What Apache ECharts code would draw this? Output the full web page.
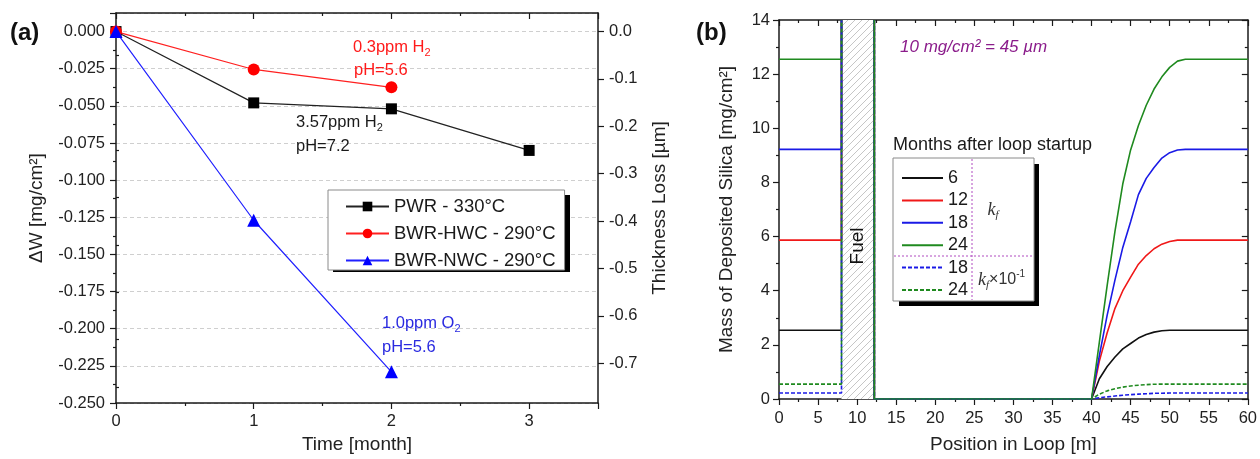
<!DOCTYPE html>
<html><head><meta charset="utf-8">
<script src="https://cdn.jsdelivr.net/npm/echarts@6/dist/echarts.min.js"></script>
<style>html,body{margin:0;padding:0;background:#fff}#c{width:1260px;height:459px}</style>
</head><body><div id="c"></div><script>
// ---------- data: panel (a) ----------
const timeMonths = [0, 1, 2, 3];
const pwrDeltaW = [0, -0.048, -0.052, -0.080];
const hwcDeltaW = [0, -0.0255, -0.0375];
const nwcDeltaW = [0, -0.127, -0.229];
const thicknessTicks = [0, -0.1, -0.2, -0.3, -0.4, -0.5, -0.6, -0.7];
const thicknessMinorTicks = [-0.05, -0.15, -0.25, -0.35, -0.45, -0.55, -0.65, -0.75];
const umPerMgCm2 = 3.136; // thickness loss (µm) per mg/cm2

// ---------- data: panel (b) ----------
const loopPosition = [40, 41, 42, 43, 44, 45, 46, 47, 48, 49, 50, 51, 52, 60];
const silica6  = [0, 0.75, 1.2, 1.55, 1.85, 2.05, 2.25, 2.38, 2.47, 2.52, 2.54, 2.54, 2.54, 2.54];
const silica12 = [0, 1.4, 2.45, 3.35, 4.0, 4.5, 4.98, 5.3, 5.55, 5.72, 5.82, 5.87, 5.87, 5.87];
const silica18 = [0, 1.6, 3.1, 4.4, 5.6, 6.55, 7.55, 8.15, 8.55, 8.9, 9.1, 9.2, 9.22, 9.22];
const silica24 = [0, 2.1, 4.2, 6.2, 7.95, 9.2, 10.1, 10.85, 11.45, 11.9, 12.25, 12.48, 12.55, 12.55];
const silica18low = [0, 0.05, 0.08, 0.11, 0.14, 0.16, 0.18, 0.195, 0.21, 0.215, 0.22, 0.22, 0.22, 0.22];
const silica24low = [0, 0.18, 0.3, 0.38, 0.44, 0.48, 0.51, 0.53, 0.545, 0.55, 0.55, 0.55, 0.55, 0.55];
const fuelStart = 8, fuelEnd = 12.2;
const massMax = 14;

// ---------- helpers ----------
const F = 'Liberation Sans, Arial, sans-serif';
const INK = '#1a1a1a';
const axLine = {show: true, onZero: false, lineStyle: {color: INK, width: 1.5}};
const tickSty = {color: INK, width: 1.2};
const lbl = (extra) => Object.assign({color: '#222', fontSize: 16.5, fontFamily: F}, extra);
const nameSty = {color: '#222', fontSize: 19, fontFamily: F};

function xy(xs, ys) { return ys.map((v, i) => [xs[i], v]); }
function loopData(vals) {
  const level = vals[vals.length - 1];
  return [[0, level], [fuelStart, level], [fuelStart, massMax], ['-', '-'],
          [fuelEnd, massMax], [fuelEnd, 0]].concat(xy(loopPosition, vals));
}

const T = 7;
const hatch = document.createElement('canvas');
hatch.width = T; hatch.height = T;
const hc = hatch.getContext('2d');
hc.fillStyle = '#fff'; hc.fillRect(0, 0, T, T);
hc.strokeStyle = '#c6c6c6'; hc.lineWidth = 1;
hc.beginPath();
hc.moveTo(0, T); hc.lineTo(T, 0);
hc.moveTo(-T / 2, T / 2); hc.lineTo(T / 2, -T / 2);
hc.moveTo(T / 2, T * 1.5); hc.lineTo(T * 1.5, T / 2);
hc.stroke();

const chart = echarts.init(document.getElementById('c'), null, {renderer: 'canvas', width: 1260, height: 459});

const option = {
  animation: false,
  backgroundColor: '#fff',
  textStyle: {fontFamily: F},
  grid: [
    {left: 116, top: 13, width: 482, height: 390},
    {left: 779, top: 20, width: 471, height: 380}
  ],
  xAxis: [
    {gridIndex: 0, type: 'value', min: 0, max: 3.5, interval: 1, position: 'bottom',
     axisLine: axLine, axisTick: {show: true, length: 6, lineStyle: tickSty},
     minorTick: {show: true, splitNumber: 2, length: 3, lineStyle: tickSty},
     axisLabel: lbl({margin: 10, showMaxLabel: false}), splitLine: {show: false},
     name: 'Time [month]', nameLocation: 'middle', nameGap: 32, nameTextStyle: nameSty},
    {gridIndex: 0, type: 'value', min: 0, max: 3.5, interval: 1, position: 'top',
     axisLine: axLine, axisTick: {show: true, inside: true, length: 6, lineStyle: tickSty},
     minorTick: {show: true, splitNumber: 2, length: 3, lineStyle: tickSty},
     axisLabel: {show: false}, splitLine: {show: false}},
    {gridIndex: 1, type: 'value', min: 0, max: 60, interval: 5, position: 'bottom',
     axisLine: axLine, axisTick: {show: true, length: 6, lineStyle: tickSty},
     minorTick: {show: true, splitNumber: 2, length: 3, lineStyle: tickSty},
     axisLabel: lbl({margin: 11}), splitLine: {show: false},
     name: 'Position in Loop [m]', nameLocation: 'middle', nameGap: 36, nameTextStyle: nameSty},
    {gridIndex: 1, type: 'value', min: 0, max: 60, interval: 5, position: 'top',
     axisLine: axLine, axisTick: {show: true, inside: true, length: 6, lineStyle: tickSty},
     minorTick: {show: true, splitNumber: 2, length: 3, lineStyle: tickSty},
     axisLabel: {show: false}, splitLine: {show: false}}
  ],
  yAxis: [
    {gridIndex: 0, type: 'value', min: -0.25, max: 0.0125, interval: 0.025, position: 'left',
     axisLine: axLine, axisTick: {show: true, length: 6, lineStyle: tickSty},
     minorTick: {show: true, splitNumber: 2, length: 3, lineStyle: tickSty},
     axisLabel: lbl({margin: 11, showMaxLabel: false, formatter: v => v.toFixed(3)}),
     splitLine: {show: true, lineStyle: {color: '#cfcfcf', type: [4, 3], width: 1}},
     name: 'ΔW [mg/cm²]', nameLocation: 'middle', nameGap: 70, nameRotate: 90, nameTextStyle: nameSty},
    {gridIndex: 0, type: 'value', min: -0.25 * umPerMgCm2, max: 0.0125 * umPerMgCm2, position: 'right',
     axisLine: axLine, axisTick: {show: true, length: 6, lineStyle: tickSty, customValues: thicknessTicks},
     axisLabel: lbl({margin: 11, customValues: thicknessTicks, formatter: v => v.toFixed(1)}),
     splitLine: {show: false},
     name: 'Thickness Loss [µm]', nameLocation: 'middle', nameGap: 52, nameRotate: 90, nameTextStyle: nameSty},
    {gridIndex: 0, type: 'value', min: -0.25 * umPerMgCm2, max: 0.0125 * umPerMgCm2, position: 'right',
     axisLine: {show: false}, axisTick: {show: true, length: 3, lineStyle: tickSty, customValues: thicknessMinorTicks},
     axisLabel: {show: false}, splitLine: {show: false}},
    {gridIndex: 1, type: 'value', min: 0, max: massMax, interval: 2, position: 'left',
     axisLine: axLine, axisTick: {show: true, length: 6, lineStyle: tickSty},
     minorTick: {show: true, splitNumber: 2, length: 3, lineStyle: tickSty},
     axisLabel: lbl({margin: 9}), splitLine: {show: false},
     name: 'Mass of Deposited Silica [mg/cm²]', nameLocation: 'middle', nameGap: 43, nameRotate: 90, nameTextStyle: nameSty},
    {gridIndex: 1, type: 'value', min: 0, max: massMax, interval: 2, position: 'right',
     axisLine: axLine, axisTick: {show: true, inside: true, length: 6, lineStyle: tickSty},
     minorTick: {show: true, splitNumber: 2, length: 3, lineStyle: tickSty},
     axisLabel: {show: false}, splitLine: {show: false}}
  ],
  legend: [
    {left: 328, top: 190, orient: 'vertical', itemWidth: 43, itemHeight: 12, itemGap: 8,
     padding: [7, 9, 0, 17], backgroundColor: '#fff', borderColor: '#8a8a8a', borderWidth: 1,
     textStyle: {fontSize: 18.5, fontFamily: F, color: '#1a1a1a'},
     data: ['PWR - 330°C', 'BWR-HWC - 290°C', 'BWR-NWC - 290°C']},
    {left: 893, top: 158, orient: 'vertical', itemWidth: 41, itemHeight: 10, itemGap: 4.4,
     padding: [11, 66, 2, 8], backgroundColor: '#fff', borderColor: '#8a8a8a', borderWidth: 1,
     itemStyle: {opacity: 0},
     textStyle: {fontSize: 18, fontFamily: F, color: '#1a1a1a'},
     formatter: n => n.split(' ')[0],
     data: ['6', '12', '18', '24', '18 (kf×0.1)', '24 (kf×0.1)']}
  ],
  series: [
    {type: 'line', name: 'PWR - 330°C', xAxisIndex: 0, yAxisIndex: 0, data: xy(timeMonths, pwrDeltaW),
     symbol: 'rect', symbolSize: 11, lineStyle: {color: '#222', width: 1.2}, itemStyle: {color: '#000'}, z: 3},
    {type: 'line', name: 'BWR-HWC - 290°C', xAxisIndex: 0, yAxisIndex: 0, data: xy(timeMonths, hwcDeltaW),
     symbol: 'circle', symbolSize: 12, lineStyle: {color: '#ff2020', width: 1.2}, itemStyle: {color: '#ff0000'}, z: 3},
    {type: 'line', name: 'BWR-NWC - 290°C', xAxisIndex: 0, yAxisIndex: 0, data: xy(timeMonths, nwcDeltaW),
     symbol: 'triangle', symbolSize: 13, lineStyle: {color: '#2020ff', width: 1.2}, itemStyle: {color: '#0000ff'}, z: 3},

    {type: 'line', name: '6', xAxisIndex: 2, yAxisIndex: 3, data: loopData(silica6), symbol: 'none',
     lineStyle: {color: '#111', width: 1.6}, itemStyle: {color: '#111'}, connectNulls: false,
     markArea: {silent: true, itemStyle: {color: {image: hatch, repeat: 'repeat'}},
       data: [[{xAxis: fuelStart, yAxis: 0}, {xAxis: fuelEnd, yAxis: massMax}]]}},
    {type: 'line', name: '12', xAxisIndex: 2, yAxisIndex: 3, data: loopData(silica12), symbol: 'none',
     lineStyle: {color: '#f01818', width: 1.6}, itemStyle: {color: '#f01818'}},
    {type: 'line', name: '18', xAxisIndex: 2, yAxisIndex: 3, data: loopData(silica18), symbol: 'none',
     lineStyle: {color: '#1a1ae6', width: 1.6}, itemStyle: {color: '#1a1ae6'}},
    {type: 'line', name: '24', xAxisIndex: 2, yAxisIndex: 3, data: loopData(silica24), symbol: 'none',
     lineStyle: {color: '#1f8a1f', width: 1.6}, itemStyle: {color: '#1f8a1f'}},
    {type: 'line', name: '18 (kf×0.1)', xAxisIndex: 2, yAxisIndex: 3, data: loopData(silica18low), symbol: 'none',
     lineStyle: {color: '#1a1ae6', width: 1.6, type: [4, 2]}, itemStyle: {color: '#1a1ae6'}},
    {type: 'line', name: '24 (kf×0.1)', xAxisIndex: 2, yAxisIndex: 3, data: loopData(silica24low), symbol: 'none',
     lineStyle: {color: '#1f8a1f', width: 1.6, type: [4, 2]}, itemStyle: {color: '#1f8a1f'}}
  ],
  graphic: [
    // legend drop shadows
    {type: 'rect', z: 3, shape: {x: 333, y: 195, width: 237, height: 77}, style: {fill: '#000'}},
    {type: 'rect', z: 3, shape: {x: 899, y: 164, width: 140, height: 142}, style: {fill: '#000'}},

    {type: 'text', x: 10, y: 33, z: 100, style: {text: '(a)', font: 'bold 24px ' + F, fill: '#111', verticalAlign: 'middle'}},
    {type: 'text', x: 696, y: 33, z: 100, style: {text: '(b)', font: 'bold 24px ' + F, fill: '#111', verticalAlign: 'middle'}},
    {type: 'text', x: 353, y: 47, z: 100, style: {text: '{n|0.3ppm H}{s|2}', verticalAlign: 'middle',
      rich: {n: {fontSize: 16.5, fontFamily: F, fill: '#ff1a1a', lineHeight: 22}, s: {fontSize: 11, fontFamily: F, fill: '#ff1a1a', lineHeight: 12, verticalAlign: 'bottom'}}}},
    {type: 'text', x: 354, y: 70, z: 100, style: {text: 'pH=5.6', font: '16.5px ' + F, fill: '#ff1a1a', verticalAlign: 'middle'}},
    {type: 'text', x: 296, y: 122, z: 100, style: {text: '{n|3.57ppm H}{s|2}', verticalAlign: 'middle',
      rich: {n: {fontSize: 16.5, fontFamily: F, fill: '#1a1a1a', lineHeight: 22}, s: {fontSize: 11, fontFamily: F, fill: '#1a1a1a', lineHeight: 12, verticalAlign: 'bottom'}}}},
    {type: 'text', x: 296, y: 146, z: 100, style: {text: 'pH=7.2', font: '16.5px ' + F, fill: '#1a1a1a', verticalAlign: 'middle'}},
    {type: 'text', x: 382, y: 323, z: 100, style: {text: '{n|1.0ppm O}{s|2}', verticalAlign: 'middle',
      rich: {n: {fontSize: 16.5, fontFamily: F, fill: '#2a2ae0', lineHeight: 22}, s: {fontSize: 11, fontFamily: F, fill: '#2a2ae0', lineHeight: 12, verticalAlign: 'bottom'}}}},
    {type: 'text', x: 382, y: 347, z: 100, style: {text: 'pH=5.6', font: '16.5px ' + F, fill: '#2a2ae0', verticalAlign: 'middle'}},

    {type: 'text', x: 858, y: 246, rotation: Math.PI / 2, z: 100, style: {text: 'Fuel', font: '19px ' + F, fill: '#111', align: 'center', verticalAlign: 'middle'}},
    {type: 'text', x: 900, y: 47, z: 100, style: {text: '10 mg/cm² = 45 µm', font: 'italic 17px ' + F, fill: '#8b1c8b', verticalAlign: 'middle'}},
    {type: 'text', x: 893, y: 145, z: 100, style: {text: 'Months after loop startup', font: '18px ' + F, fill: '#1a1a1a', verticalAlign: 'middle'}},
    {type: 'line', z: 100, shape: {x1: 972, y1: 159, x2: 972, y2: 300}, style: {stroke: '#b04ac0', lineWidth: 1, lineDash: [2, 2]}},
    {type: 'line', z: 100, shape: {x1: 894, y1: 256, x2: 1033, y2: 256}, style: {stroke: '#b04ac0', lineWidth: 1, lineDash: [2, 2]}},
    {type: 'text', x: 993, y: 210, z: 100, style: {text: '{i|k}{s|f}', verticalAlign: 'middle', align: 'center',
      rich: {i: {fontSize: 18, fontFamily: 'Liberation Serif', fontStyle: 'italic', fill: '#333', lineHeight: 22}, s: {fontSize: 11, fontFamily: 'Liberation Serif', fontStyle: 'italic', fill: '#333', lineHeight: 12, verticalAlign: 'bottom'}}}},
    {type: 'text', x: 978, y: 280, z: 100, style: {text: '{i|k}{s|f}{n|×10}{p|-1}', verticalAlign: 'middle',
      rich: {i: {fontSize: 18, fontFamily: 'Liberation Serif', fontStyle: 'italic', fill: '#333', lineHeight: 22},
             s: {fontSize: 11, fontFamily: 'Liberation Serif', fontStyle: 'italic', fill: '#333', lineHeight: 12, verticalAlign: 'bottom'},
             n: {fontSize: 16, fontFamily: F, fill: '#333', lineHeight: 22},
             p: {fontSize: 10, fontFamily: F, fill: '#333', lineHeight: 12, verticalAlign: 'top'}}}}
  ]
};
chart.setOption(option);
</script></body></html>
